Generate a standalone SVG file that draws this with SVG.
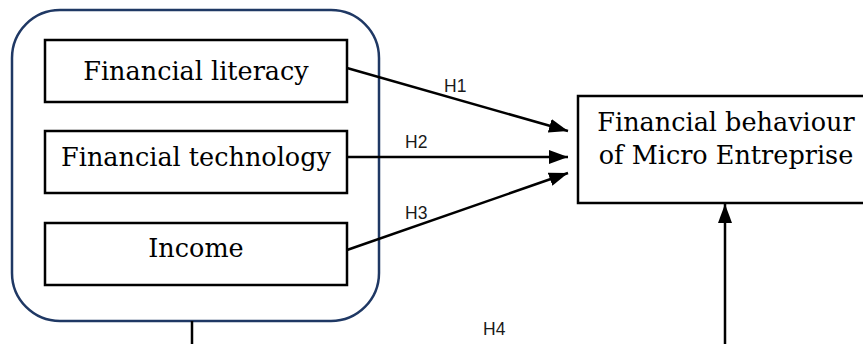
<svg xmlns="http://www.w3.org/2000/svg" width="863" height="344" viewBox="0 0 863 344">
<style>
.box{fill:#fff;stroke:#000;stroke-width:2.5}
.grp{fill:none;stroke:#1f3864;stroke-width:2.5}
.lbl{font-family:"DejaVu Serif","Liberation Serif",serif;font-size:25.5px;fill:#000;text-anchor:middle}
.h{font-family:"Liberation Sans","Open Sans",sans-serif;font-size:17.5px;fill:#1a1a1a}
.con{fill:none;stroke:#000;stroke-width:2.5}
</style>
<defs>
<marker id="ah" markerUnits="userSpaceOnUse" markerWidth="22" markerHeight="16" refX="19" refY="7" orient="auto">
<path d="M0,0 L19,7 L0,14 z" fill="#000"/>
</marker>
</defs>
<g id="group">
<rect class="grp" x="12" y="10" width="367" height="311" rx="48" ry="48"/>
</g>
<g id="literacy">
<rect class="box" x="45" y="40" width="302" height="62"/>
<text class="lbl" x="196" y="80">Financial literacy</text>
</g>
<g id="technology">
<rect class="box" x="45" y="131" width="302" height="62"/>
<text class="lbl" x="196" y="166">Financial technology</text>
</g>
<g id="income">
<rect class="box" x="45" y="223" width="302" height="62"/>
<text class="lbl" x="196" y="257">Income</text>
</g>
<g id="behaviour">
<rect class="box" x="578" y="96" width="300" height="107"/>
<text class="lbl" x="726" y="131">Financial behaviour</text>
<text class="lbl" x="726" y="164">of Micro Entreprise</text>
</g>
<g id="connectors">
<line class="con" x1="347" y1="68" x2="568" y2="131" marker-end="url(#ah)"/>
<line class="con" x1="347" y1="157" x2="568" y2="157" marker-end="url(#ah)"/>
<line class="con" x1="347" y1="250" x2="568" y2="173" marker-end="url(#ah)"/>
<path class="con" d="M192,321 V360 H725 V204" marker-end="url(#ah)"/>
<text class="h" x="444" y="92">H1</text>
<text class="h" x="405" y="148">H2</text>
<text class="h" x="405" y="219">H3</text>
<text class="h" x="483" y="335">H4</text>
</g>
</svg>
